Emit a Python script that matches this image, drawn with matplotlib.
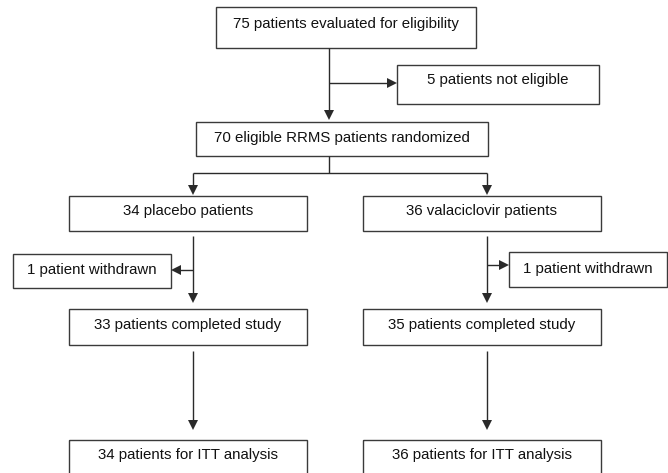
import matplotlib.pyplot as plt
from matplotlib.patches import Rectangle

# box texts of the flow chart
screening = ['75 patients evaluated for eligibility', '5 patients not eligible']
randomized = ['70 eligible RRMS patients randomized']
arms = ['34 placebo patients', '36 valaciclovir patients']
withdrawn = ['1 patient withdrawn', '1 patient withdrawn']
completed = ['33 patients completed study', '35 patients completed study']
itt = ['34 patients for ITT analysis', '36 patients for ITT analysis']

LINE = '#2a2a2a'
FONT = 'Liberation Sans'


def box(ax, x0, y0, x1, y1, text, ty=None):
    ax.add_patch(Rectangle((x0, y0), x1 - x0, y1 - y0, fill=False,
                           edgecolor='#3a3a3a', lw=1.0))
    if ty is None:
        ty = (y0 + y1) / 2
    ax.text((x0 + x1) / 2, ty, text, ha='center', va='center',
            fontsize=10.8, family=FONT, color='#111111')


def line(ax, xs, ys):
    ax.plot(xs, ys, color=LINE, lw=1.0, solid_capstyle='butt')


def head(ax, x, y, d):
    # filled arrow head, tip at (x, y); d is the direction
    L, W = 10, 5
    if d == 'down':
        pts = [(x, y), (x - W, y - L), (x + W, y - L)]
    elif d == 'right':
        pts = [(x, y), (x - L, y - W), (x - L, y + W)]
    else:
        pts = [(x, y), (x + L, y - W), (x + L, y + W)]
    ax.add_patch(plt.Polygon(pts, closed=True, color=LINE, lw=0))


fig = plt.figure(figsize=(6.68, 4.73), dpi=100)
ax = fig.add_axes([0, 0, 1, 1])
ax.set_xlim(0, 668)
ax.set_ylim(473, 0)
ax.axis('off')

# top part
box(ax, 216, 7, 476, 48, screening[0], ty=24)
box(ax, 397, 65, 599, 104, screening[1], ty=80)
line(ax, [329, 329], [48, 112])
head(ax, 329, 120, 'down')
line(ax, [329, 389], [83, 83])
head(ax, 397, 83, 'right')

box(ax, 196, 122, 488, 156, randomized[0], ty=138)

# split into two arms
line(ax, [329, 329], [156, 173])
line(ax, [193, 487], [173, 173])
for cx in (193, 487):
    line(ax, [cx, cx], [173, 186])
    head(ax, cx, 195, 'down')

cols = [(69, 307, 193), (363, 601, 487)]
wd_boxes = [(13, 171, 254, 288), (509, 667, 252, 287)]
branch_y = [270, 265]

for i, (x0, x1, cx) in enumerate(cols):
    box(ax, x0, 196, x1, 231, arms[i], ty=211)
    line(ax, [cx, cx], [236, 294])
    head(ax, cx, 303, 'down')
    bx0, bx1, by0, by1 = wd_boxes[i]
    box(ax, bx0, by0, bx1, by1, withdrawn[i], ty=(by0 + by1) / 2 - 1)
    if i == 0:
        line(ax, [cx, bx1 + 9], [branch_y[i], branch_y[i]])
        head(ax, bx1, branch_y[i], 'left')
    else:
        line(ax, [cx, bx0 - 9], [branch_y[i], branch_y[i]])
        head(ax, bx0, branch_y[i], 'right')

    box(ax, x0, 309, x1, 345, completed[i], ty=325)
    line(ax, [cx, cx], [351, 421])
    head(ax, cx, 430, 'down')
    box(ax, x0, 440, x1, 485, itt[i], ty=455)

fig.savefig('out.png', dpi=100, facecolor='white')
